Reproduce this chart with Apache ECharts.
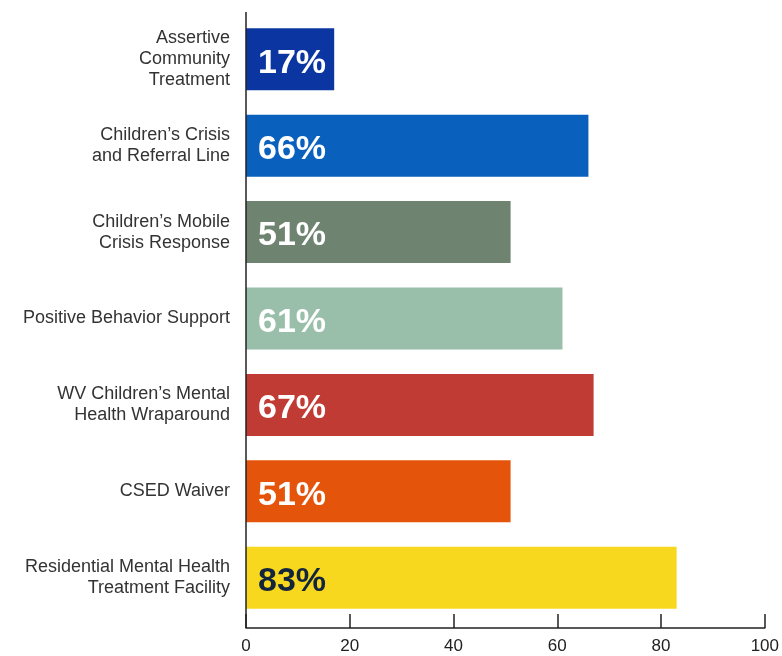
<!DOCTYPE html>
<html>
<head>
<meta charset="utf-8">
<style>
  html, body { margin: 0; padding: 0; background: #ffffff; }
  #chart { width: 782px; height: 656px; }
</style>
<script src="https://cdn.jsdelivr.net/npm/echarts@6/dist/echarts.min.js"></script>
</head>
<body>
<div id="chart"></div>
<script>
// Programs, listed top to bottom
const programs = [
  'Assertive\nCommunity\nTreatment',
  'Children\u2019s Crisis\nand Referral Line',
  'Children\u2019s Mobile\nCrisis Response',
  'Positive Behavior Support',
  'WV Children\u2019s Mental\nHealth Wraparound',
  'CSED Waiver',
  'Residential Mental Health\nTreatment Facility'
];
// Percentage per program
const percents = [17, 66, 51, 61, 67, 51, 83];
// Bar fill per program
const barColors = ['#0b36a1', '#0a60bd', '#6e8370', '#99bfab', '#c13b35', '#e4540a', '#f8d81f'];
// Value label colour per program
const labelColors = ['#ffffff', '#ffffff', '#ffffff', '#ffffff', '#ffffff', '#ffffff', '#13243d'];
// Horizontal axis ticks
const xTicks = [0, 20, 40, 60, 80, 100];

const chart = echarts.init(document.getElementById('chart'), null, { renderer: 'canvas' });

const labelFont = '"Liberation Sans", Arial, Helvetica, sans-serif';

const gridTop = 16;
const gridBottom = 35;
const xAxisOffset = 7;

const option = {
  animation: false,
  backgroundColor: '#ffffff',
  grid: { left: 246, right: 16, top: gridTop, bottom: gridBottom, containLabel: false },
  xAxis: {
    type: 'value',
    min: xTicks[0],
    max: xTicks[xTicks.length - 1],
    interval: xTicks[1] - xTicks[0],
    offset: xAxisOffset,
    axisLine: { show: true, lineStyle: { color: '#222', width: 1.5 } },
    axisTick: { show: true, inside: true, length: 14, lineStyle: { color: '#222', width: 1.5 } },
    splitLine: { show: false },
    axisLabel: {
      color: '#222', fontSize: 17, fontFamily: labelFont, margin: 10,
      formatter: v => xTicks.includes(v) ? String(v) : ''
    }
  },
  yAxis: {
    type: 'category',
    inverse: true,
    data: programs,
    axisLine: { show: false },
    axisTick: { show: false },
    axisLabel: {
      color: '#333', fontSize: 18, fontFamily: labelFont,
      lineHeight: 21, align: 'right', margin: 16,
      padding: [5, 0, 0, 0]
    }
  },
  series: [{
    type: 'bar',
    barWidth: 62,
    data: percents.map((v, i) => ({
      value: v,
      itemStyle: { color: barColors[i] },
      label: { color: labelColors[i] }
    })),
    label: {
      show: true,
      position: 'insideLeft',
      distance: 12,
      offset: [0, 4],
      formatter: p => p.value + '%',
      fontFamily: labelFont,
      fontWeight: 'bold',
      fontSize: 34
    }
  }]
};

chart.setOption(option);

// Vertical baseline spanning from just above the first bar down to the offset x axis
const lineTop = 12;
const lineBottom = 656 - gridBottom + xAxisOffset;
const x0 = chart.convertToPixel({ gridIndex: 0 }, [0, 0])[0];
chart.setOption({
  graphic: [{
    type: 'line',
    shape: { x1: x0, y1: lineTop, x2: x0, y2: lineBottom },
    style: { stroke: '#222', lineWidth: 1.5 },
    z: 10
  }]
});
</script>
</body>
</html>
